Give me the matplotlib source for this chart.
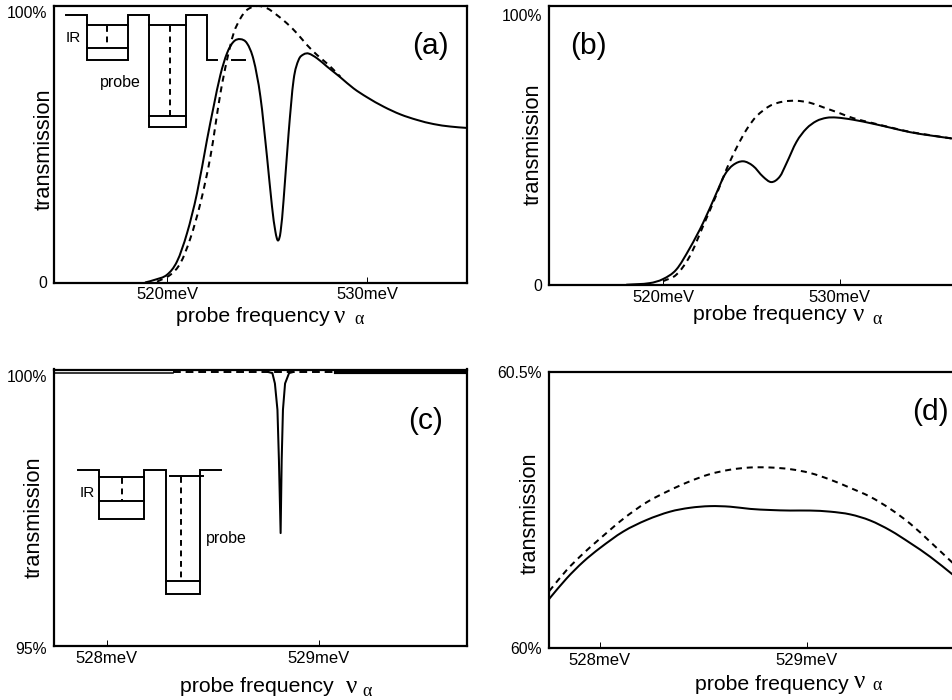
import matplotlib
matplotlib.use('Agg')
import matplotlib.pyplot as plt
from matplotlib.patches import PathPatch
from matplotlib.path import Path
from matplotlib.transforms import ScaledTranslation

plt.rcParams['font.family'] = ['Liberation Sans', 'DejaVu Sans']

# panel (a)
a_solid_x = [518.9, 519.4, 520.0, 520.5, 521.0, 521.5, 522.0, 522.33, 522.67, 523.0, 523.33, 523.67, 524.0, 524.33,
             524.67, 525.0, 525.25, 525.42, 525.55, 525.68, 525.83, 526.08, 526.33, 526.58, 526.83, 527.08, 527.5,
             528.0, 528.67, 529.33, 530.0, 530.83, 531.67, 532.5, 533.33, 534.17, 535.0]
a_solid_y = [0.0, 1.0, 2.8, 7.6, 17.8, 32.3, 51.6, 63.6, 75.1, 82.9, 87.1, 88.0, 86.5, 80.5,
             67.2, 45.5, 27.5, 18.4, 15.2, 18.4, 29.9, 54.0, 73.3, 80.5, 82.5, 82.8, 81.1,
             78.1, 74.2, 70.2, 67.0, 63.6, 60.8, 58.8, 57.3, 56.4, 55.9]
a_dash_x = [519.5, 520.17, 520.67, 521.17, 521.67, 522.17, 522.67, 523.0, 523.33, 523.67, 524.0, 524.5, 525.0,
            525.5, 526.0, 526.5, 527.0, 527.5, 528.08, 528.67]
a_dash_y = [0.3, 2.8, 7.0, 16.0, 28.7, 45.5, 68.4, 80.5, 90.1, 95.5, 98.6, 100.0, 99.2,
            96.7, 93.7, 90.1, 85.9, 82.3, 78.7, 74.4]

# panel (b)
b_solid_x = [517.92, 519.25, 520.0, 520.75, 521.51, 522.26, 523.02, 523.49, 523.96, 524.53, 525.09, 525.66, 526.13,
             526.6, 526.98, 527.55, 528.11, 528.68, 529.25, 529.81, 530.75, 531.89, 532.83, 533.96, 535.09, 536.4]
b_solid_y = [0.1, 0.7, 2.2, 5.7, 13.6, 22.9, 34.0, 40.8, 44.4, 45.8, 44.1, 40.1, 38.1,
             40.1, 45.0, 53.0, 57.9, 60.7, 61.9, 62.0, 61.2, 59.7, 58.3, 56.6, 55.4, 54.2]
b_dash_x = [520.0, 520.75, 521.51, 522.26, 523.02, 523.58, 524.15, 524.72, 525.28, 526.04, 526.79, 527.55, 528.3,
            529.06, 530.0, 530.75, 531.89, 532.83, 533.96, 535.09, 536.4]
b_dash_y = [1.4, 3.8, 10.6, 21.7, 33.4, 42.7, 50.7, 57.5, 62.4, 66.3, 67.9, 68.2, 67.5,
            65.8, 63.6, 61.8, 59.9, 58.4, 56.7, 55.5, 54.2]

# panel (c), the solid line runs along the top of the box
c_left_x = [527.75, 528.31]
c_left_y = [99.985, 99.985]
c_dip_x = [528.76, 528.781, 528.793, 528.805, 528.812, 528.82, 528.825, 528.831, 528.841, 528.86, 528.88]
c_dip_y = [100.0, 99.98, 99.79, 99.31, 98.39, 97.06, 98.39, 99.31, 99.79, 99.98, 100.0]
c_right_x = [529.08, 529.7]
c_right_y = [100.0, 100.0]
c_dash_x = [528.31, 529.08]
c_dash_y = [100.0, 100.0]

# panel (d)
d_solid_x = [527.755, 527.839, 527.919, 528.0, 528.113, 528.226, 528.339, 528.435, 528.532, 528.629, 528.726,
             528.823, 528.919, 529.016, 529.113, 529.21, 529.306, 529.403, 529.5, 529.597, 529.708]
d_solid_y = [60.089, 60.126, 60.156, 60.181, 60.211, 60.232, 60.247, 60.254, 60.257, 60.256, 60.252,
             60.25, 60.249, 60.249, 60.247, 60.242, 60.231, 60.213, 60.19, 60.165, 60.132]
d_dash_y = [60.103, 60.141, 60.171, 60.198, 60.234, 60.264, 60.286, 60.302, 60.315, 60.323, 60.327,
            60.327, 60.324, 60.317, 60.305, 60.29, 60.274, 60.252, 60.225, 60.192, 60.153]

W, H = 953, 700
LW = 1.45
DASH = (0, (3.0, 2.4))

fig = plt.figure(figsize=(W / 100, H / 100), dpi=100)

# whole figure axes in pixels, used for the sketches and the loose labels
over = fig.add_axes([0, 0, 1, 1], zorder=5)
over.set_xlim(0, W)
over.set_ylim(H, 0)
over.axis('off')


def make_panel(box, xlim, ylim, xticks, xticklabels, yticks, yticklabels, label_xy, nudge):
    left, top, right, bottom = box
    ax = fig.add_axes([left / W, 1 - bottom / H, (right - left) / W, (bottom - top) / H])
    ax.set_xlim(xlim)
    ax.set_ylim(ylim)
    ax.set_xticks(xticks)
    ax.set_xticklabels(xticklabels, fontsize=12)
    ax.set_yticks(yticks)
    ax.set_yticklabels(yticklabels, fontsize=11.3)
    ax.tick_params(axis='x', direction='in', length=4.5, width=0.7, pad=3.5)
    ax.tick_params(axis='y', length=0, pad=5)
    for s in ax.spines.values():
        s.set_linewidth(1.6)
    for lab, dy in zip(ax.get_yticklabels(), nudge):
        lab.set_transform(lab.get_transform() + ScaledTranslation(0, -dy / 100, fig.dpi_scale_trans))
    ax.set_ylabel('transmission', fontsize=15.7)
    ax.yaxis.set_label_coords(label_xy[0], label_xy[1], transform=over.transData)
    ax.yaxis.label.set_va('center')
    return ax


def freq_label(ax, x, y, nu_x, nu_y, alpha_x, alpha_y):
    ax.set_xlabel('probe frequency', fontsize=15.3)
    ax.xaxis.label.set_va('center')
    ax.xaxis.set_label_coords(x, y, transform=over.transData)
    over.text(nu_x, nu_y, 'ν', fontsize=18, family='Liberation Serif', ha='center', va='center')
    over.text(alpha_x, alpha_y, 'α', fontsize=13, family='Liberation Serif', ha='center', va='center')


def curve(ax, x, y, **kw):
    # smooth bezier through the read points, no extra points added
    n = len(x)
    slopes = []
    for i in range(n):
        lo, hi = max(i - 1, 0), min(i + 1, n - 1)
        slopes.append((y[hi] - y[lo]) / (x[hi] - x[lo]))
    verts = [(x[0], y[0])]
    codes = [Path.MOVETO]
    for i in range(n - 1):
        h = x[i + 1] - x[i]
        verts += [(x[i] + h / 3, y[i] + slopes[i] * h / 3),
                  (x[i + 1] - h / 3, y[i + 1] - slopes[i + 1] * h / 3),
                  (x[i + 1], y[i + 1])]
        codes += [Path.CURVE4] * 3
    ax.add_patch(PathPatch(Path(verts, codes), fill=False, edgecolor='black', capstyle='butt', **kw))


def sketch(paths, dashes):
    for px, py in paths:
        over.plot(px, py, color='black', lw=1.4, solid_joinstyle='miter')
    for px, py in dashes:
        over.plot(px, py, color='black', lw=1.4, dashes=(3.0, 2.4))


ax_a = make_panel((54, 6, 467, 282.5), (514.35, 535.0), (0, 100), [520, 530], ['520meV', '530meV'],
                  [0, 100], ['0', '100%'], (44, 149), [0, 6])
curve(ax_a, a_dash_x, a_dash_y, lw=LW, ls=DASH)
curve(ax_a, a_solid_x, a_solid_y, lw=LW)
freq_label(ax_a, 253, 317, 340, 317, 359, 320)

ax_b = make_panel((549, 6, 960, 285), (513.55, 536.8), (0, 103.3), [520, 530], ['520meV', '530meV'],
                  [0, 100], ['0', '100%'], (533, 144), [0, 0])
curve(ax_b, b_dash_x, b_dash_y, lw=LW, ls=DASH)
curve(ax_b, b_solid_x, b_solid_y, lw=LW)
freq_label(ax_b, 770, 315, 859, 315, 877, 319)

ax_c = make_panel((54, 369.5, 467, 646), (527.75, 529.7), (95, 100.045), [528, 529], ['528meV', '529meV'],
                  [95, 100], ['95%', '100%'], (34, 517), [2, 4])
ax_c.plot(c_dash_x, c_dash_y, color='black', lw=1.4, ls=(0, (4, 2.5)))
ax_c.plot(c_left_x, c_left_y, color='black', lw=1.1)
ax_c.plot(c_dip_x, c_dip_y, color='black', lw=LW)
ax_c.plot(c_right_x, c_right_y, color='black', lw=3.0)
freq_label(ax_c, 257, 687, 352, 687, 367, 692)

ax_d = make_panel((549, 372, 960, 648), (527.754, 529.74), (60, 60.5), [528, 529], ['528meV', '529meV'],
                  [60, 60.5], ['60%', '60.5%'], (530, 513), [0, 0])
curve(ax_d, d_solid_x, d_dash_y, lw=LW, ls=DASH)
curve(ax_d, d_solid_x, d_solid_y, lw=LW)
freq_label(ax_d, 772, 685, 860, 682, 877, 685)

# level sketches, pixel positions
sketch([([66, 87, 87, 128, 128, 149, 149, 186, 186, 207, 207, 217], [15, 15, 60, 60, 15, 15, 127, 127, 15, 15, 60, 60]),
        ([232, 245], [60, 60]),
        ([87, 128], [25, 25]), ([87, 128], [48, 48]),
        ([149, 186], [25, 25]), ([149, 186], [116, 116])],
       [([107.5, 107.5], [26, 48]), ([170, 170], [26, 116])])
sketch([([78, 99.5, 99.5, 144, 144, 166, 166, 200, 200, 221], [470, 470, 519, 519, 470, 470, 594, 594, 470, 470]),
        ([99.5, 144], [477, 477]), ([99.5, 144], [501, 501]),
        ([170, 203], [476, 476]), ([166, 200], [581, 581])],
       [([122.5, 122.5], [478, 501]), ([181, 181], [477, 581])])

over.text(73.5, 38, 'IR', fontsize=11, ha='center', va='center')
over.text(120.5, 83, 'probe', fontsize=11.5, ha='center', va='center')
over.text(87, 493, 'IR', fontsize=11, ha='center', va='center')
over.text(226, 538, 'probe', fontsize=11.5, ha='center', va='center')

over.text(430, 46, '(a)', fontsize=21.5, ha='center', va='center')
over.text(588, 46, '(b)', fontsize=21.5, ha='center', va='center')
over.text(426, 421, '(c)', fontsize=21.5, ha='center', va='center')
over.text(930, 412, '(d)', fontsize=21.5, ha='center', va='center')

fig.savefig('out.png', dpi=100)
